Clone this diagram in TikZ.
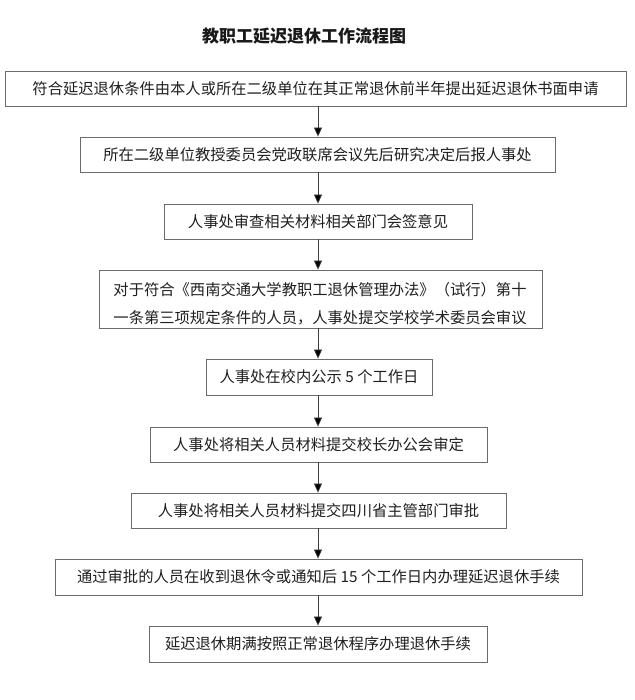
\documentclass[tikz,border=0pt]{standalone}
\usepackage{fontspec}
\newfontfamily\cjk{Noto Sans CJK SC}
\usetikzlibrary{arrows.meta}

\begin{document}
\begin{tikzpicture}[x=1pt,y=-1pt,
  stage/.style={draw=black!58, line width=0.8pt, inner sep=0pt, minimum height=35pt,
    text=black!88, font=\cjk\fontsize{15.3}{27.5}\selectfont},
  flow/.style={draw=black!75, line width=0.7pt, -{Triangle[length=9pt,width=8pt,fill=black]}}]
\useasboundingbox (0,0) rectangle (634,700);
\node [font=\cjk\bfseries\fontsize{17}{20}\selectfont, text=black!90] (title) at (304,36) {教职工延迟退休工作流程图};
\coordinate (spine) at (318,0);
\node [stage, minimum width=621pt] (apply) at (315.5,88.5) {符合延迟退休条件由本人或所在二级单位在其正常退休前半年提出延迟退休书面申请};
\node [stage, minimum width=475pt] (unit) at (317.5,154.5) {所在二级单位教授委员会党政联席会议先后研究决定后报人事处};
\node [stage, minimum width=308pt] (review) at (318,221.5) {人事处审查相关材料相关部门会签意见};
\node [stage, minimum width=443pt, minimum height=58pt] (senate) at (320.5,299) {};
\node [text=black!88, font=\cjk\fontsize{15.3}{27.5}\selectfont, align=center, inner sep=0pt] (senatetext) at (320,304)
  {对于符合《西南交通大学教职工退休管理办法》（试行）第十\\一条第三项规定条件的人员，人事处提交学校学术委员会审议};
\node [stage, minimum width=226pt, minimum height=36pt] (notice) at (319,377) {人事处在校内公示 5 个工作日};
\node [stage, minimum width=337pt] (president) at (318.5,444.5) {人事处将相关人员材料提交校长办公会审定};
\node [stage, minimum width=375pt] (province) at (318.5,510.5) {人事处将相关人员材料提交四川省主管部门审批};
\node [stage, minimum width=527pt, minimum height=36pt] (procedure) at (318.5,577) {通过审批的人员在收到退休令或通知后 15 个工作日内办理延迟退休手续};
\node [stage, minimum width=338pt, minimum height=36pt] (expire) at (318,644) {延迟退休期满按照正常退休程序办理退休手续};
\draw [flow] (apply.south -| spine) -- (unit.north -| spine);
\draw [flow] (unit.south -| spine) -- (review.north -| spine);
\draw [flow] (review.south -| spine) -- (senate.north -| spine);
\draw [flow] (senate.south -| spine) -- (notice.north -| spine);
\draw [flow] (notice.south -| spine) -- (president.north -| spine);
\draw [flow] (president.south -| spine) -- (province.north -| spine);
\draw [flow] (province.south -| spine) -- (procedure.north -| spine);
\draw [flow] (procedure.south -| spine) -- (expire.north -| spine);
\end{tikzpicture}
\end{document}
